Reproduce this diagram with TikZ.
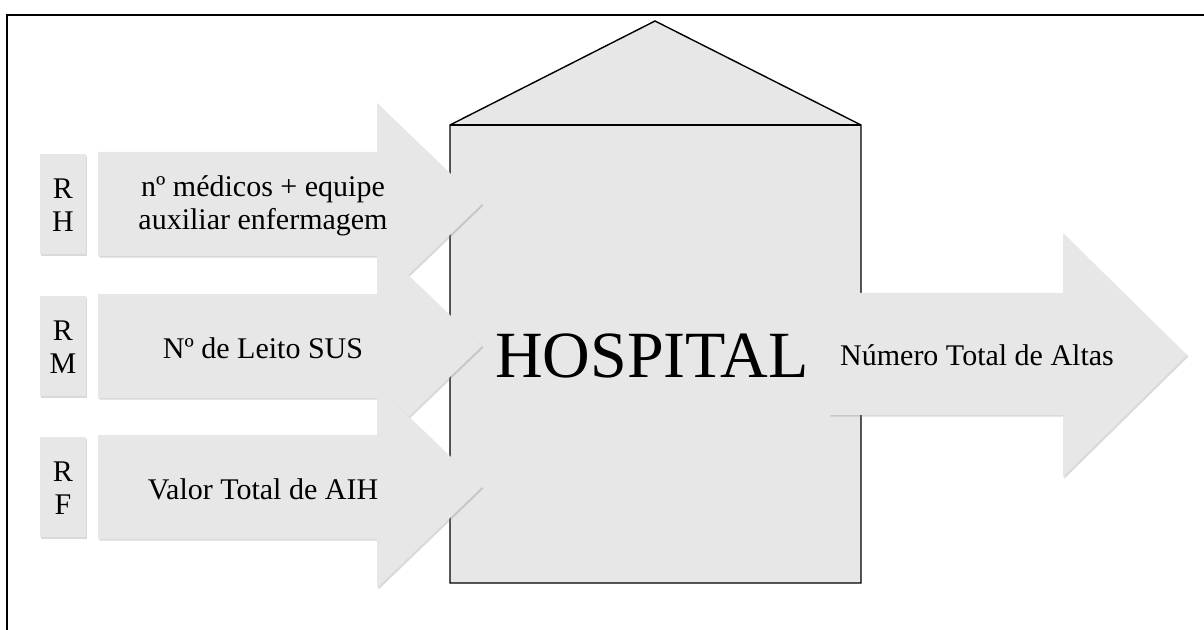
\documentclass[tikz,border=0pt]{standalone}
\usepackage{fontspec}
\setmainfont{Liberation Serif}
\usetikzlibrary{shadows}
\definecolor{cFill}{RGB}{231,231,231}

\begin{document}
\begin{tikzpicture}[x=0.5pt, y=-0.5pt, font=\fontsize{15}{16.5}\selectfont,
	shaded/.style={fill=cFill, drop shadow={shadow xshift=0.7pt, shadow yshift=-0.8pt, opacity=0.3}}]
	\useasboundingbox (0,0) rectangle (1204,630);
	\draw[line width=1pt] (7,630) -- (7,15) -- (1204,15);
	% hospital
	\draw[fill=cFill, line width=0.7pt] (450,583) -- (450,125) -- (655,21) -- (861,125) -- (861,583) -- cycle;
	\draw[line width=0.7pt] (450,125) -- (861,125);
	\node (hosp) at (652,356) {\fontsize{33}{36}\selectfont HOSPITAL};
	% input arrows
	\foreach \c/\t/\l [count=\i] in {204/{R\\H}/{nº médicos + equipe\\auxiliar enfermagem}, 346/{R\\M}/{Nº de Leito SUS}, 487/{R\\F}/{Valor Total de AIH}} {
		\path[shaded] (40,\c-50) rectangle (86,\c+50);
		\node[align=center] (tag\i) at (63,\c+1) {\t};
		\path[shaded] (98,\c-52) -- (377,\c-52) -- (377,\c-101) -- (482,\c) -- (377,\c+101) -- (377,\c+52) -- (98,\c+52) -- cycle;
		\node[align=center] (in\i) at (263,\c+2) {\l};
	}
	% output arrow
	\path[shaded] (829,293) -- (1063,293) -- (1063,233) -- (1187,355) -- (1063,477) -- (1063,415) -- (829,415) -- cycle;
	\node (out) at (977,355) {Número Total de Altas};
\end{tikzpicture}
\end{document}
